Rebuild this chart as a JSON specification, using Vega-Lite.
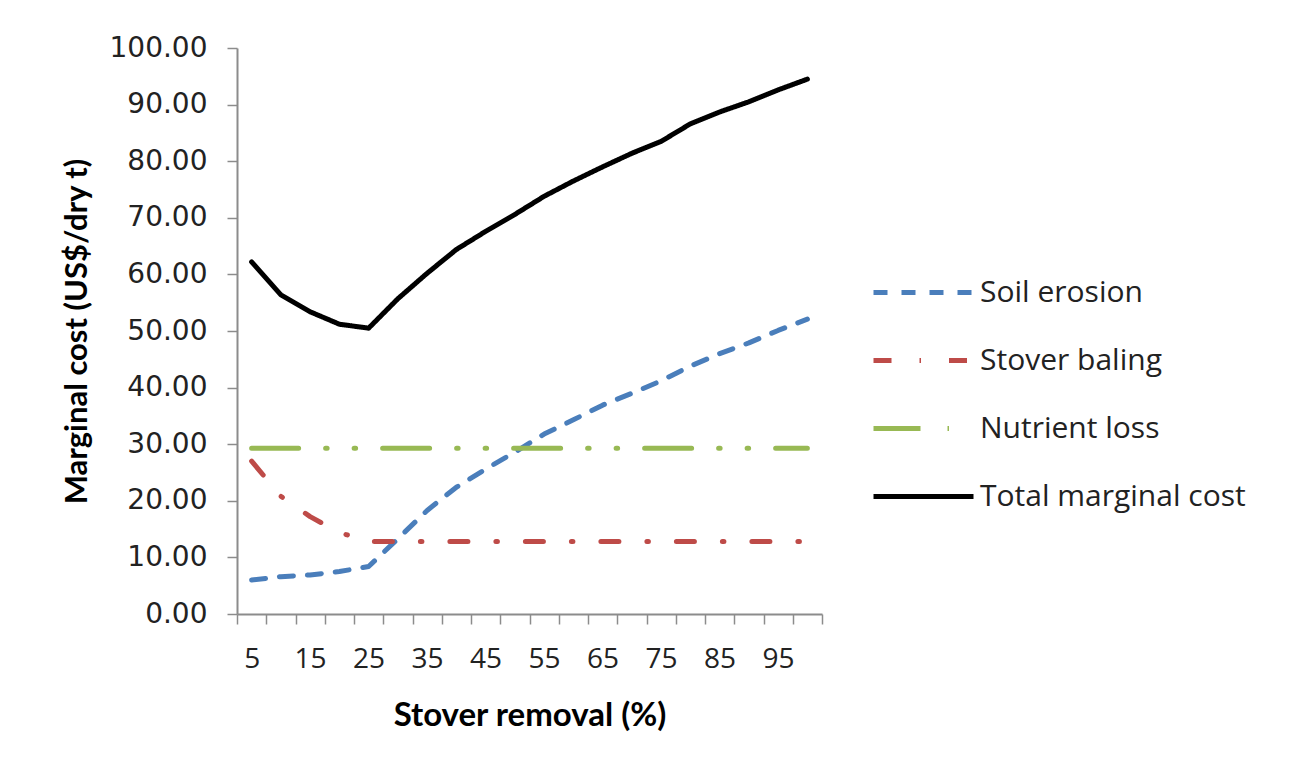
{
  "$schema": "https://vega.github.io/schema/vega-lite/v6.json",
  "width": 585,
  "height": 566,
  "autosize": "none",
  "padding": {"left": 237, "top": 48, "right": 476, "bottom": 162},
  "background": "white",
  "config": {
    "view": {"stroke": null},
    "axis": {
      "domainColor": "#8c8c8c",
      "domainWidth": 2,
      "tickColor": "#8c8c8c",
      "tickWidth": 1.5,
      "tickSize": 10,
      "grid": false,
      "labelColor": "#222222",
      "titleColor": "#000000"
    }
  },
  "data": {
    "values": [
      {"removal": 5, "series": "Soil erosion", "cost": 6.0},
      {"removal": 10, "series": "Soil erosion", "cost": 6.6},
      {"removal": 15, "series": "Soil erosion", "cost": 6.9},
      {"removal": 20, "series": "Soil erosion", "cost": 7.5},
      {"removal": 25, "series": "Soil erosion", "cost": 8.4},
      {"removal": 30, "series": "Soil erosion", "cost": 13.3},
      {"removal": 35, "series": "Soil erosion", "cost": 18.3},
      {"removal": 40, "series": "Soil erosion", "cost": 22.4},
      {"removal": 45, "series": "Soil erosion", "cost": 25.6},
      {"removal": 50, "series": "Soil erosion", "cost": 28.6},
      {"removal": 55, "series": "Soil erosion", "cost": 31.8},
      {"removal": 60, "series": "Soil erosion", "cost": 34.3},
      {"removal": 65, "series": "Soil erosion", "cost": 36.9},
      {"removal": 70, "series": "Soil erosion", "cost": 39.0},
      {"removal": 75, "series": "Soil erosion", "cost": 41.2},
      {"removal": 80, "series": "Soil erosion", "cost": 43.8},
      {"removal": 85, "series": "Soil erosion", "cost": 46.0},
      {"removal": 90, "series": "Soil erosion", "cost": 47.9},
      {"removal": 95, "series": "Soil erosion", "cost": 50.1},
      {"removal": 100, "series": "Soil erosion", "cost": 52.1},
      {"removal": 5, "series": "Stover baling", "cost": 27.0},
      {"removal": 10, "series": "Stover baling", "cost": 20.8},
      {"removal": 15, "series": "Stover baling", "cost": 17.2},
      {"removal": 20, "series": "Stover baling", "cost": 14.4},
      {"removal": 25, "series": "Stover baling", "cost": 12.8},
      {"removal": 30, "series": "Stover baling", "cost": 12.8},
      {"removal": 35, "series": "Stover baling", "cost": 12.8},
      {"removal": 40, "series": "Stover baling", "cost": 12.8},
      {"removal": 45, "series": "Stover baling", "cost": 12.8},
      {"removal": 50, "series": "Stover baling", "cost": 12.8},
      {"removal": 55, "series": "Stover baling", "cost": 12.8},
      {"removal": 60, "series": "Stover baling", "cost": 12.8},
      {"removal": 65, "series": "Stover baling", "cost": 12.8},
      {"removal": 70, "series": "Stover baling", "cost": 12.8},
      {"removal": 75, "series": "Stover baling", "cost": 12.8},
      {"removal": 80, "series": "Stover baling", "cost": 12.8},
      {"removal": 85, "series": "Stover baling", "cost": 12.8},
      {"removal": 90, "series": "Stover baling", "cost": 12.8},
      {"removal": 95, "series": "Stover baling", "cost": 12.8},
      {"removal": 100, "series": "Stover baling", "cost": 12.8},
      {"removal": 5, "series": "Nutrient loss", "cost": 29.3},
      {"removal": 10, "series": "Nutrient loss", "cost": 29.3},
      {"removal": 15, "series": "Nutrient loss", "cost": 29.3},
      {"removal": 20, "series": "Nutrient loss", "cost": 29.3},
      {"removal": 25, "series": "Nutrient loss", "cost": 29.3},
      {"removal": 30, "series": "Nutrient loss", "cost": 29.3},
      {"removal": 35, "series": "Nutrient loss", "cost": 29.3},
      {"removal": 40, "series": "Nutrient loss", "cost": 29.3},
      {"removal": 45, "series": "Nutrient loss", "cost": 29.3},
      {"removal": 50, "series": "Nutrient loss", "cost": 29.3},
      {"removal": 55, "series": "Nutrient loss", "cost": 29.3},
      {"removal": 60, "series": "Nutrient loss", "cost": 29.3},
      {"removal": 65, "series": "Nutrient loss", "cost": 29.3},
      {"removal": 70, "series": "Nutrient loss", "cost": 29.3},
      {"removal": 75, "series": "Nutrient loss", "cost": 29.3},
      {"removal": 80, "series": "Nutrient loss", "cost": 29.3},
      {"removal": 85, "series": "Nutrient loss", "cost": 29.3},
      {"removal": 90, "series": "Nutrient loss", "cost": 29.3},
      {"removal": 95, "series": "Nutrient loss", "cost": 29.3},
      {"removal": 100, "series": "Nutrient loss", "cost": 29.3},
      {"removal": 5, "series": "Total marginal cost", "cost": 62.2},
      {"removal": 10, "series": "Total marginal cost", "cost": 56.4},
      {"removal": 15, "series": "Total marginal cost", "cost": 53.4},
      {"removal": 20, "series": "Total marginal cost", "cost": 51.2},
      {"removal": 25, "series": "Total marginal cost", "cost": 50.5},
      {"removal": 30, "series": "Total marginal cost", "cost": 55.7},
      {"removal": 35, "series": "Total marginal cost", "cost": 60.2},
      {"removal": 40, "series": "Total marginal cost", "cost": 64.4},
      {"removal": 45, "series": "Total marginal cost", "cost": 67.6},
      {"removal": 50, "series": "Total marginal cost", "cost": 70.6},
      {"removal": 55, "series": "Total marginal cost", "cost": 73.8},
      {"removal": 60, "series": "Total marginal cost", "cost": 76.5},
      {"removal": 65, "series": "Total marginal cost", "cost": 79.0},
      {"removal": 70, "series": "Total marginal cost", "cost": 81.4},
      {"removal": 75, "series": "Total marginal cost", "cost": 83.5},
      {"removal": 80, "series": "Total marginal cost", "cost": 86.6},
      {"removal": 85, "series": "Total marginal cost", "cost": 88.7},
      {"removal": 90, "series": "Total marginal cost", "cost": 90.5},
      {"removal": 95, "series": "Total marginal cost", "cost": 92.6},
      {"removal": 100, "series": "Total marginal cost", "cost": 94.5}
    ]
  },
  "mark": {"type": "line", "strokeWidth": 5, "strokeCap": "round", "strokeJoin": "round"},
  "encoding": {
    "x": {
      "field": "removal",
      "type": "ordinal",
      "bandPosition": 0.5,
      "scale": {"type": "band", "paddingInner": 0, "paddingOuter": 0},
      "axis": {
        "title": "Stover removal (%)",
        "titleFont": "Lato",
        "titleFontWeight": "bold",
        "titleFontSize": 33,
        "titlePadding": 26,
        "labelFont": "Open Sans",
        "labelFontSize": 28,
        "labelAngle": 0,
        "labelPadding": 21,
        "labelOverlap": false,
        "labelExpr": "datum.value % 10 == 5 ? datum.label : ''",
        "tickBand": "extent"
      }
    },
    "y": {
      "field": "cost",
      "type": "quantitative",
      "scale": {"domain": [0, 100], "nice": false},
      "axis": {
        "title": "Marginal cost (US$/dry t)",
        "titleFont": "Lato",
        "titleFontWeight": "bold",
        "titleFontSize": 31,
        "titlePadding": 16,
        "labelFont": "DejaVu Sans",
        "labelFontSize": 28,
        "labelPadding": 20,
        "format": ".2f",
        "values": [0, 10, 20, 30, 40, 50, 60, 70, 80, 90, 100]
      }
    },
    "color": {
      "field": "series",
      "type": "nominal",
      "scale": {
        "domain": ["Soil erosion", "Stover baling", "Nutrient loss", "Total marginal cost"],
        "range": ["#4a7ebb", "#be4b48", "#98b954", "#000000"]
      },
      "legend": {
        "title": null,
        "orient": "none",
        "legendX": 634,
        "legendY": 192,
        "symbolType": "stroke",
        "symbolSize": 10000,
        "symbolStrokeWidth": 5,
        "labelFont": "Open Sans",
        "labelFontSize": 30,
        "labelColor": "#222222",
        "labelOffset": 4,
        "labelLimit": 0,
        "rowPadding": -10
      }
    },
    "strokeDash": {
      "field": "series",
      "type": "nominal",
      "scale": {
        "domain": ["Soil erosion", "Stover baling", "Nutrient loss", "Total marginal cost"],
        "range": [[14, 14], [18, 28, 1.5, 28], [47, 27, 1.5, 27, 1.5, 27], [1, 0]]
      },
      "legend": null
    }
  }
}
